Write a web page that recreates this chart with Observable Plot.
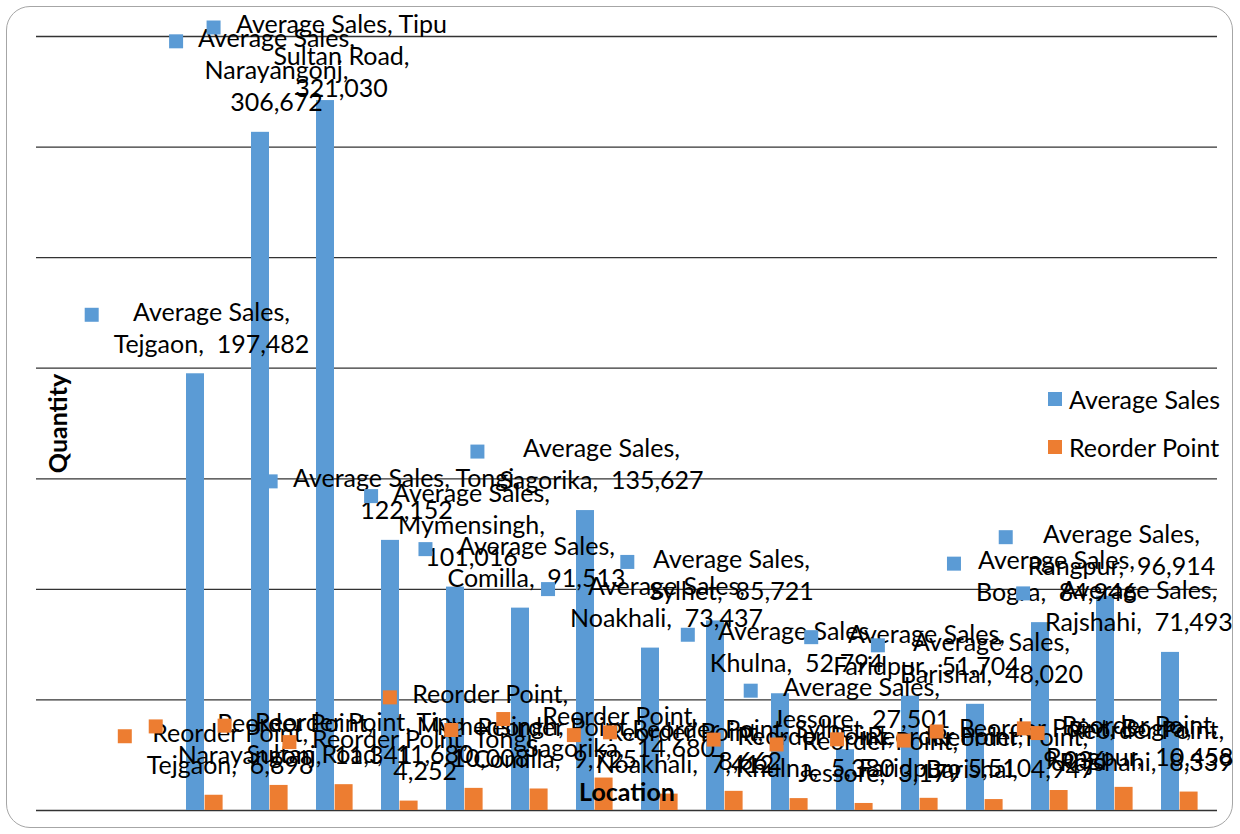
<!DOCTYPE html>
<html>
<head>
<meta charset="utf-8">
<script src="https://cdn.jsdelivr.net/npm/d3@7"></script>
<script src="https://cdn.jsdelivr.net/npm/@observablehq/plot@0.6"></script>
<style>
  html, body { margin: 0; padding: 0; background: #fff; }
  #chart { position: relative; width: 1240px; height: 834px; overflow: hidden; font-family: Lato, "Liberation Sans", sans-serif; }
  #frame { position: absolute; left: 6px; top: 6px; width: 1227px; height: 822px; box-sizing: border-box;
           border: 1.5px solid #a6a6a6; border-radius: 24px; }
  #chart svg { position: absolute; left: 0; top: 0; }
  .legend-item { position: absolute; left: 1048px; display: flex; align-items: center; font-size: 25px; color: #000; line-height: 1; }
  .legend-item .key { width: 14px; height: 14px; margin-right: 7px; }
</style>
</head>
<body>
<div id="chart">
  <div id="frame"></div>
</div>
<script>
// Sales and reorder quantities per location
const locations = ["Tejgaon", "Narayangonj", "Tipu Sultan Road", "Tongi", "Mymensingh", "Comilla", "Sagorika",
  "Noakhali", "Sylhet", "Khulna", "Jessore", "Faridpur", "Barishal", "Bogra", "Rangpur", "Rajshahi"];
const averageSales = [197482, 306672, 321030, 122152, 101016, 91513, 135627,
  73437, 85721, 52794, 27501, 51704, 48020, 84946, 96914, 71493];
const reorderPoint = [6898, 11341, 11680, 4252, 10008, 9725, 14680,
  7412, 8662, 5380, 3179, 5510, 4947, 9036, 10458, 8339];
const seriesNames = ["Average Sales", "Reorder Point"];
const yTicks = [0, 50000, 100000, 150000, 200000, 250000, 300000, 350000];

const colors = {"Average Sales": "#5b9bd5", "Reorder Point": "#ed7d31"};

// Layout
const W = 1240, H = 834;
const margin = {top: 36, right: 23, bottom: 24, left: 36};
const xRange = [167.2, W - margin.right];
const fontSize = 25, lineGap = 32;
const fmt = d3.format(",");

const rows = locations.map((location, i) => ({location, avg: averageSales[i], reorder: reorderPoint[i]}));

// Bar placement inside each band (two bars side by side)
const barInsets = {
  "Average Sales": {left: 14, right: 33},
  "Reorder Point": {left: 32.6, right: 14.4}
};

// Scales used to lay out the data labels
const xs = Plot.scale({x: {type: "band", domain: locations, range: xRange, padding: 0}});
const ys = Plot.scale({y: {domain: [0, 350000], range: [H - margin.bottom, margin.top]}});
const bw = xs.bandwidth;

// Text measurement for wrapping labels
const ctx = document.createElement("canvas").getContext("2d");
ctx.font = `${fontSize}px Lato`;
const tw = s => ctx.measureText(s).width;
const wrapWidth = {"Average Sales": 1.475 * tw("Average Sales,"), "Reorder Point": 1.515 * tw("Average Sales,")};

function wrap(text, maxW) {
  const words = text.split(" ");
  const lines = [];
  let cur = "";
  for (const w of words) {
    const trial = cur === "" ? w : cur + " " + w;
    if (cur.trim() !== "" && w !== "" && tw(trial) > maxW) { lines.push(cur.trimEnd()); cur = w; }
    else cur = (cur === "" && w === "") ? "" : trial;
  }
  if (cur.trim()) lines.push(cur.trimEnd());
  return lines;
}

// Data labels: legend key + "Series, Location,  value", placed above each bar
const labelMarks = [];
seriesNames.forEach(series => {
  const values = series === "Average Sales" ? averageSales : reorderPoint;
  const ins = barInsets[series];
  locations.forEach((location, i) => {
    const value = values[i];
    const lines = wrap(`${series}, ${location},  ${fmt(value)}`, wrapWidth[series]);
    const c = xs.apply(location) + bw / 2;
    const barCenter = xs.apply(location) + (ins.left + bw - ins.right) / 2;
    const yTop = ys.apply(value);
    const blockW = d3.max(lines, tw);
    let cx = barCenter + 16;
    cx = Math.min(cx, W - 3 - blockW / 2);
    let firstCenter = yTop - 27 - lineGap * (lines.length - 1);
    firstCenter = Math.max(firstCenter, 27);
    const d = {location, value, label: lines.join("\n")};
    labelMarks.push(
      Plot.dot([d], {x: "location", y: "value", symbol: "square", r: 7.9, fill: colors[series],
        dx: cx - blockW / 2 - 22 - c, dy: firstCenter - yTop}),
      Plot.text([d], {x: "location", y: "value", text: "label", textAnchor: "middle", lineAnchor: "top",
        lineHeight: lineGap / fontSize, fill: "#000", dx: cx - c, dy: firstCenter - 17 - yTop})
    );
  });
});

const chart = Plot.plot({
  width: W, height: H,
  marginTop: margin.top, marginRight: margin.right, marginBottom: margin.bottom, marginLeft: margin.left,
  x: {type: "band", domain: locations, range: xRange, padding: 0, axis: null},
  y: {domain: [0, 350000], axis: null},
  style: {fontFamily: "Lato, 'Liberation Sans', sans-serif", fontSize: `${fontSize}px`, color: "#000", background: "transparent", overflow: "visible"},
  marks: [
    Plot.ruleY(yTicks, {stroke: "#333", strokeWidth: 1.3}),
    Plot.barY(rows, {x: "location", y: "avg", fill: colors["Average Sales"],
      insetLeft: barInsets["Average Sales"].left, insetRight: barInsets["Average Sales"].right}),
    Plot.barY(rows, {x: "location", y: "reorder", fill: colors["Reorder Point"],
      insetLeft: barInsets["Reorder Point"].left, insetRight: barInsets["Reorder Point"].right}),
    ...labelMarks,
    Plot.text(["Quantity"], {text: d => d, frameAnchor: "left", textAnchor: "middle", lineAnchor: "middle",
      dx: 22, rotate: -90, fontWeight: "bold", fill: "#000"}),
    Plot.text(["Location"], {text: d => d, frameAnchor: "bottom", lineAnchor: "middle", dy: -18, fontWeight: "bold", fill: "#000"})
  ]
});
document.getElementById("chart").appendChild(chart);

// Legend
seriesNames.forEach((name, i) => {
  const item = document.createElement("div");
  item.className = "legend-item";
  item.style.top = `${399 + i * 48 - 13}px`;
  item.style.height = "26px";
  item.innerHTML = `<span class="key" style="background:${colors[name]}"></span><span>${name}</span>`;
  document.getElementById("chart").appendChild(item);
});
</script>
</body>
</html>
